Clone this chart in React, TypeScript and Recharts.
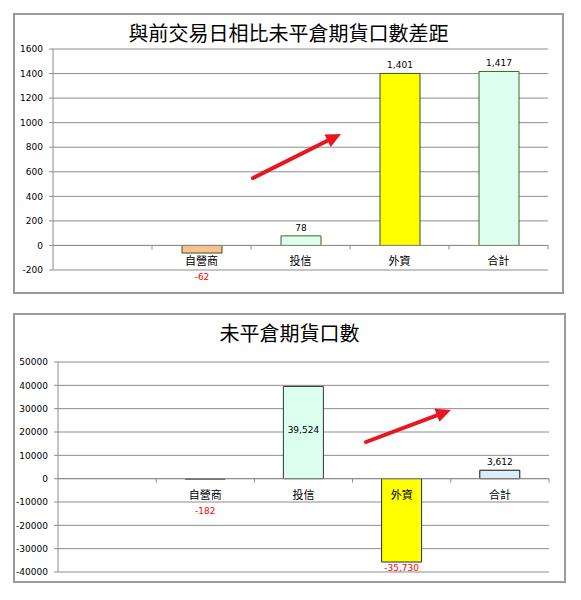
import React from 'react';
import {
  BarChart,
  Bar,
  XAxis,
  YAxis,
  CartesianGrid,
  ReferenceLine,
  ReferenceDot,
  LabelList,
  Cell,
} from 'recharts';

// ---------- data ----------
const categories = ['', '自營商', '投信', '外資', '合計'];
const diffValues: (number | null)[] = [null, -62, 78, 1401, 1417];
const oiValues: (number | null)[] = [null, -182, 39524, -35730, 3612];
const diffTicks = [-200, 0, 200, 400, 600, 800, 1000, 1200, 1400, 1600];
const oiTicks = [-40000, -30000, -20000, -10000, 0, 10000, 20000, 30000, 40000, 50000];
const diffTitle = '與前交易日相比未平倉期貨口數差距';
const oiTitle = '未平倉期貨口數';

// ---------- styles ----------
const diffFills = ['#ffffff', '#fac090', '#dcfff0', '#ffff00', '#dcfff0'];
const diffStrokes = ['#000', '#2f5a14', '#3a6a1a', '#2f5a14', '#3a6a1a'];
const diffLabelModes = ['out', 'out', 'out', 'out', 'out'];
const oiFills = ['#ffffff', '#555555', '#dcfff0', '#ffff00', '#dcedf5'];
const oiStrokes = ['#000', '#333333', '#333333', '#1f2a5a', '#111111'];
const oiLabelModes = ['out', 'out', 'center', 'out', 'out'];

const CJK = '"Noto Sans CJK TC", "Noto Sans CJK SC", sans-serif';
const NUM = '"DejaVu Sans", Verdana, sans-serif';
const GRID = '#8c8c8c';

const fmt = (v: number) => v.toLocaleString('en-US');

type PanelProps = {
  left: number;
  top: number;
  width: number;
  height: number;
  title: string;
  titleCenterY: number;
  margin: { top: number; right: number; bottom: number; left: number };
  yAxisWidth: number;
  values: (number | null)[];
  ticks: number[];
  fills: string[];
  strokes: string[];
  labelModes: string[];
};

function Panel(p: PanelProps) {
  const data = categories.map((name, i) => ({ name: name === '' ? ' ' : name, value: p.values[i] }));
  const domain = [p.ticks[0], p.ticks[p.ticks.length - 1]];

  const renderLabel = (props: any) => {
    const vb = props.viewBox || {};
    const x = props.x ?? vb.x;
    const y = props.y ?? vb.y;
    const width = props.width ?? vb.width;
    const height = props.height ?? vb.height;
    const value = props.value;
    if (value == null || x == null) return null;
    const idx = p.values.indexOf(Number(value));
    const top = Math.min(y, y + height);
    const bottom = Math.max(y, y + height);
    const cx = x + width / 2;
    let ty: number;
    let fill = '#000';
    if (value < 0) {
      ty = Math.max(bottom + 6, top + 32);
      fill = '#ff0000';
    } else if (p.labelModes[idx] === 'center') {
      ty = (top + bottom) / 2 - 3;
    } else {
      ty = top - 8;
    }
    return (
      <text
        x={cx}
        y={ty}
        textAnchor="middle"
        dominantBaseline="central"
        fontSize={9}
        fontFamily={NUM}
        fill={fill}
      >
        {fmt(Number(value))}
      </text>
    );
  };

  const boundaries = categories.slice(1);

  return (
    <>
      <div
        style={{
          position: 'absolute',
          left: p.left,
          top: p.top,
          width: p.width,
          height: p.height,
          boxSizing: 'border-box',
          border: '2px solid #9a9a9a',
          background: '#fff',
        }}
      />
      <div
        style={{
          position: 'absolute',
          left: p.left,
          top: p.titleCenterY - 14,
          width: p.width,
          height: 28,
          lineHeight: '28px',
          textAlign: 'center',
          fontFamily: CJK,
          fontSize: 20,
          color: '#000',
          whiteSpace: 'nowrap',
        }}
      >
        {p.title}
      </div>
      <div style={{ position: 'absolute', left: p.left, top: p.top }}>
        <BarChart width={p.width} height={p.height} data={data} margin={p.margin}>
          <CartesianGrid vertical={false} stroke={GRID} strokeWidth={1} />
          <XAxis dataKey="name" type="category" hide />
          <YAxis
            type="number"
            domain={domain}
            ticks={p.ticks}
            interval={0}
            width={p.yAxisWidth}
            axisLine={{ stroke: GRID }}
            tickLine={{ stroke: GRID }}
            tickSize={4}
            tickMargin={6}
            tick={{ fontSize: 9, fontFamily: NUM, fill: '#000' }}
            allowDataOverflow
          />
          <Bar dataKey="value" barSize={40} isAnimationActive={false}>
            {data.map((d, i) => (
              <Cell key={i} fill={p.fills[i]} stroke={p.strokes[i]} strokeWidth={1} />
            ))}
            <LabelList dataKey="value" content={renderLabel} />
          </Bar>
          <ReferenceLine y={0} stroke={GRID} strokeWidth={1} />
          {boundaries.map((c, i) => (
            <ReferenceLine
              key={'t' + i}
              segment={[
                { x: c, y: 0 },
                { x: c, y: 0 },
              ]}
              position="start"
              ifOverflow="visible"
              shape={(sp: any) => (
                <line x1={sp.x1} y1={sp.y1} x2={sp.x1} y2={sp.y1 + 4} stroke={GRID} strokeWidth={1} />
              )}
            />
          ))}
          <ReferenceLine
            segment={[
              { x: categories[categories.length - 1], y: 0 },
              { x: categories[categories.length - 1], y: 0 },
            ]}
            position="end"
            ifOverflow="visible"
            shape={(sp: any) => (
              <line x1={sp.x1} y1={sp.y1} x2={sp.x1} y2={sp.y1 + 4} stroke={GRID} strokeWidth={1} />
            )}
          />
          {boundaries.map((c, i) => (
            <ReferenceDot
              key={'c' + i}
              x={c}
              y={0}
              r={0}
              ifOverflow="visible"
              shape={(sp: any) => (
                <text
                  x={sp.cx}
                  y={sp.cy + 15}
                  textAnchor="middle"
                  dominantBaseline="central"
                  fontSize={11}
                  fontFamily={CJK}
                  fill="#000"
                >
                  {c}
                </text>
              )}
            />
          ))}
        </BarChart>
      </div>
    </>
  );
}

function Arrow({ from, to }: { from: [number, number]; to: [number, number] }) {
  const dx = to[0] - from[0];
  const dy = to[1] - from[1];
  const len = Math.sqrt(dx * dx + dy * dy);
  const ux = dx / len;
  const uy = dy / len;
  const headLen = 15;
  const headHalf = 7;
  const bx = to[0] - ux * headLen;
  const by = to[1] - uy * headLen;
  const px = -uy;
  const py = ux;
  const pts = `${to[0]},${to[1]} ${bx + px * headHalf},${by + py * headHalf} ${bx - px * headHalf},${by - py * headHalf}`;
  return (
    <g>
      <line
        x1={from[0]}
        y1={from[1]}
        x2={bx + ux * 2}
        y2={by + uy * 2}
        stroke="#e8161e"
        strokeWidth={4}
        strokeLinecap="round"
      />
      <polygon points={pts} fill="#e8161e" />
    </g>
  );
}

export default function App() {
  return (
    <div style={{ position: 'absolute', left: 0, top: 0, width: 581, height: 600, background: '#fff' }}>
      <Panel
        left={13}
        top={13}
        width={551}
        height={281}
        title={diffTitle}
        titleCenterY={33}
        margin={{ top: 36, right: 16, bottom: 24, left: 0 }}
        yAxisWidth={40}
        values={diffValues}
        ticks={diffTicks}
        fills={diffFills}
        strokes={diffStrokes}
        labelModes={diffLabelModes}
      />
      <Panel
        left={13}
        top={313}
        width={553}
        height={270}
        title={oiTitle}
        titleCenterY={333}
        margin={{ top: 49, right: 17, bottom: 11, left: 0 }}
        yAxisWidth={45}
        values={oiValues}
        ticks={oiTicks}
        fills={oiFills}
        strokes={oiStrokes}
        labelModes={oiLabelModes}
      />
      <svg
        width={581}
        height={600}
        style={{ position: 'absolute', left: 0, top: 0, pointerEvents: 'none' }}
      >
        <Arrow from={[253, 178]} to={[341, 134]} />
        <Arrow from={[366, 442]} to={[451, 410]} />
      </svg>
    </div>
  );
}
